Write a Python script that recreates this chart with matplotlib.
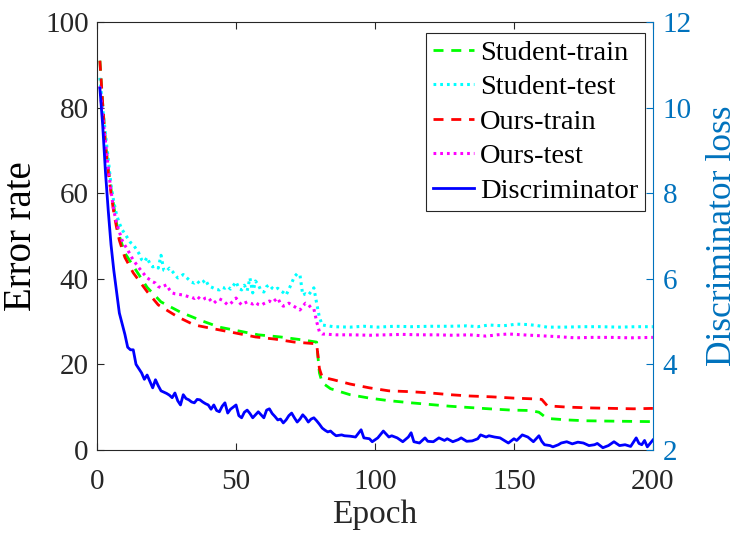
import numpy as np
import matplotlib
matplotlib.use("Agg")
import matplotlib.pyplot as plt

plt.rcParams['font.family'] = ['Liberation Serif', 'DejaVu Serif']
plt.rcParams['mathtext.fontset'] = 'stix'

# ---- data ----
st_train_ep = [1, 2, 3, 4, 5, 6, 7, 8, 10, 13, 18, 23, 30, 38, 44, 51, 58, 66, 74, 79,
               80, 81, 84, 91, 98, 105, 113, 120, 127, 134, 141, 149, 156, 159, 161,
               163, 169, 176, 187, 200]
st_train = [91, 81, 72, 66, 61, 57, 53, 50, 46, 43, 38, 34.6, 32.2, 30.1, 28.7, 27.8,
            26.9, 26.4, 25.7, 25.2, 18, 15.7, 14.3, 12.9, 12.1, 11.5, 11.0, 10.6, 10.2,
            9.9, 9.6, 9.3, 9.2, 8.8, 7.8, 7.3, 7.0, 6.8, 6.7, 6.6]

ours_train_ep = [1, 2, 3, 4, 5, 6, 7, 8, 10, 13, 18, 22, 29, 35, 42, 50, 57, 64, 71, 79,
                 80, 81, 85, 91, 98, 105, 113, 120, 127, 134, 142, 150, 158, 160, 162,
                 169, 178, 193, 200]
ours_train = [91, 81, 71, 65, 60, 55.5, 52, 49, 45, 41.4, 37, 33.9, 31.1, 29.2, 28.3,
              27.3, 26.4, 25.9, 25.2, 24.8, 19, 17, 16.4, 15.4, 14.5, 13.8, 13.6, 13.3,
              12.9, 12.6, 12.4, 12.1, 11.9, 11.8, 10.3, 10.0, 9.8, 9.6, 9.7]

st_test_ep = list(range(1, 82)) + [85, 91, 96, 101, 107, 113, 120, 127, 133, 137, 141,
                                   146, 151, 155, 158, 162, 168, 175, 181, 188, 194, 200]
st_test = [87, 80, 74, 68, 62, 58, 55, 53, 51.5, 50.5, 49.5, 48.5, 48, 47, 46, 44.5, 44,
           45, 43.5, 42.8, 43, 42.5, 45.5, 42, 41.8, 42.5, 41.8, 41, 40.2, 40.5, 41, 40.4,
           39.8, 39.2, 39, 39.5, 38.8, 39.2, 39.8, 38.5, 38.1, 37.8, 37.5, 37.4, 38, 37.8,
           38.2, 37.6, 38.4, 39.3, 37.8, 37.4, 38.5, 37.2, 40.2, 36.7, 39.5, 38.6, 37.2,
           36.9, 38.2, 38.6, 37.8, 37.4, 37.8, 37.2, 36.8, 36.2, 37.5, 39, 40.5, 41.2, 40.9,
           36.2, 36.5, 36.2, 37, 37.9, 34.3, 31, 29.2,
           28.8, 28.7, 28.9, 28.7, 28.9, 28.8, 28.9, 28.9, 29.0, 28.8, 29.2, 29.0, 29.4,
           29.3, 29.1, 28.7, 28.7, 28.8, 28.8, 28.7, 28.8, 28.8]

ours_test_ep = list(range(1, 82)) + [86, 92, 98, 104, 110, 116, 122, 128, 134, 140, 144,
                                     148, 153, 159, 165, 172, 178, 185, 192, 200]
ours_test = [85, 78, 72, 66, 60.5, 56, 53, 51, 49, 47.8, 46.8, 45.5, 44.4, 43.5, 42.6,
             41.8, 41, 40.2, 39.8, 39.3, 39, 38.2, 37.9, 38.3, 38.6, 37.5, 36.7, 36.5, 36.4,
             36.3, 36.2, 36, 35.8, 35.7, 35.4, 35.9, 35.3, 35.1, 35.5, 35.6, 34.8, 34.3,
             34.9, 35.3, 35, 34.5, 33.9, 34.2, 34.8, 35.5, 34.6, 33.9, 34.3, 34.6, 34.3,
             34.1, 34.5, 34.0, 33.8, 34.2, 34.5, 34.8, 34.4, 35.0, 35.5, 34.2, 33.6, 33.8,
             34.3, 33.9, 33.5, 33.1, 32.7, 33.6, 34.3, 34.0, 33.2, 33.0, 30, 27.6, 27.1,
             26.9, 26.9, 26.8, 26.9, 27.0, 26.9, 26.9, 26.8, 26.9, 26.6, 26.9, 27.1, 26.9,
             26.7, 26.5, 26.2, 26.3, 26.3, 26.2, 26.3]

disc_ep = list(range(1, 90)) + [91, 93, 95, 96, 98, 99, 101, 103, 105, 106, 108, 110, 112,
                                 113, 114, 116, 118, 119, 121, 123, 125, 126, 128, 130, 131,
                                 133, 135, 137, 138, 140, 141, 143, 145, 146, 148, 150, 151,
                                 153, 155, 157, 159, 160, 161, 163, 164, 166, 167, 169, 171,
                                 173, 175, 177, 179, 180, 182, 184, 186, 188, 190, 192, 194,
                                 195, 196, 197, 198, 199, 200]
disc_loss = [10.46, 9.6, 8.5, 7.6, 6.8, 6.2, 5.7, 5.2, 4.95, 4.7, 4.4, 4.34, 4.34, 4.0, 3.9,
             3.8, 3.65, 3.75, 3.6, 3.45, 3.64, 3.5, 3.38, 3.35, 3.32, 3.28, 3.22, 3.33, 3.15,
             3.05, 3.29, 3.2, 3.17, 3.12, 3.1, 3.18, 3.17, 3.12, 3.08, 3.05, 2.95, 3.05, 2.92,
             2.89, 3.02, 3.1, 2.86, 2.95, 3.0, 3.05, 2.8, 2.75, 2.88, 2.93, 2.85, 2.75, 2.82,
             2.89, 2.82, 2.75, 2.93, 2.96, 2.85, 2.78, 2.7, 2.72, 2.63, 2.7, 2.8, 2.86, 2.75,
             2.65, 2.72, 2.82, 2.75, 2.65, 2.72, 2.75, 2.68, 2.6, 2.51, 2.46, 2.42, 2.44, 2.38,
             2.33, 2.34, 2.35, 2.33,
             2.32, 2.30, 2.47, 2.28, 2.26, 2.19, 2.28, 2.44, 2.3, 2.33, 2.28, 2.19, 2.3, 2.40,
             2.19, 2.16, 2.28, 2.2, 2.19, 2.28, 2.22, 2.26, 2.19, 2.24, 2.28, 2.2, 2.21, 2.26,
             2.35, 2.3, 2.33, 2.3, 2.28, 2.24, 2.16, 2.26, 2.22, 2.35, 2.3, 2.19, 2.33, 2.2,
             2.12, 2.1, 2.07, 2.12, 2.16, 2.19, 2.14, 2.18, 2.16, 2.1, 2.12, 2.15, 2.05, 2.1,
             2.19, 2.1, 2.12, 2.08, 2.28, 2.15, 2.12, 2.22, 2.07, 2.15, 2.23]

AX_GRAY = '#262626'
RIGHT_BLUE = '#0072BD'
dash = (0, (3.6, 2.8))
dot = (0, (0.9, 1.3))

fig = plt.figure(figsize=(7.47, 5.42), dpi=100)
ax = fig.add_axes([0.130, 0.170, 0.744, 0.789])
ax2 = ax.twinx()

l1, = ax.plot(st_train_ep, st_train, color=(0, 1, 0), lw=2, linestyle=dash, label='Student-train')
l2, = ax.plot(st_test_ep, st_test, color=(0, 1, 1), lw=2.2, linestyle=dot, label='Student-test')
l3, = ax.plot(ours_train_ep, ours_train, color=(1, 0, 0), lw=2, linestyle=dash, label='Ours-train')
l4, = ax.plot(ours_test_ep, ours_test, color=(1, 0, 1), lw=2.2, linestyle=dot, label='Ours-test')
l5, = ax2.plot(disc_ep, disc_loss, color=(0, 0, 1), lw=2, label='Discriminator')

ax.set_xlim(0, 200)
ax.set_ylim(0, 100)
ax2.set_ylim(2, 12)
ax.set_xticks([0, 50, 100, 150, 200])
ax.set_yticks([0, 20, 40, 60, 80, 100])
ax2.set_yticks([2, 4, 6, 8, 10, 12])

ax.tick_params(axis='x', direction='in', top=True, length=5, width=0.8,
               colors=AX_GRAY, labelsize=21, pad=14)
ax.tick_params(axis='y', direction='in', right=False, length=5, width=0.8,
               colors=AX_GRAY, labelsize=21, pad=6)
ax2.tick_params(axis='y', direction='in', length=5, width=0.8,
                colors=RIGHT_BLUE, labelsize=21, pad=7)

for s in ['left', 'top', 'bottom']:
    ax.spines[s].set_color(AX_GRAY)
    ax.spines[s].set_linewidth(0.8)
    ax2.spines[s].set_visible(False)
ax.spines['right'].set_visible(False)
ax2.spines['right'].set_color(RIGHT_BLUE)
ax2.spines['right'].set_linewidth(0.8)

ax.set_xlabel('Epoch', fontsize=24, color=AX_GRAY, labelpad=3)
ax.set_ylabel('Error rate', fontsize=28, color='black', labelpad=4)
ax2.set_ylabel('Discriminator loss', fontsize=25.5, color=RIGHT_BLUE, labelpad=10)

leg = ax2.legend(handles=[l1, l2, l3, l4, l5], loc='upper right',
                 bbox_to_anchor=(0.9865, 0.975), fontsize=20.5, frameon=True,
                 fancybox=False, framealpha=1, edgecolor=AX_GRAY,
                 handlelength=1.45, handletextpad=0.2, labelspacing=0.3,
                 borderpad=0.25, borderaxespad=0)
leg.get_frame().set_linewidth(0.8)

fig.savefig('out.png', dpi=100)
